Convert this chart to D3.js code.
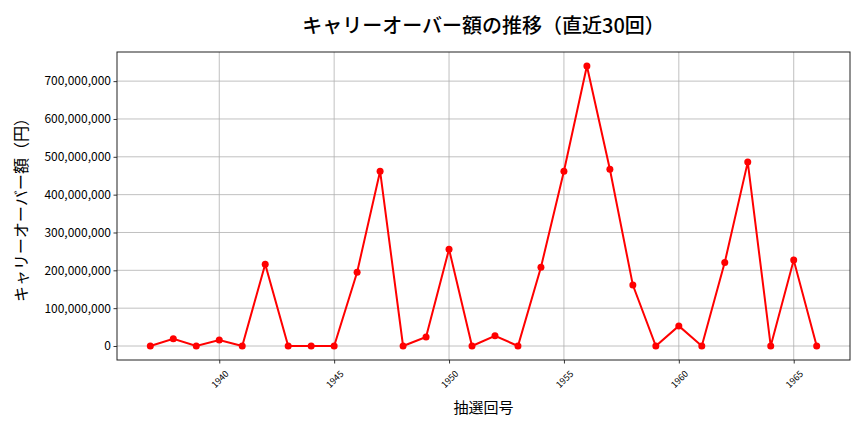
<!DOCTYPE html>
<html><head><meta charset="utf-8">
<script src="https://cdn.jsdelivr.net/npm/d3@7"></script>
<style>body{margin:0;background:#fff}svg{display:block}text{font-family:"Noto Sans CJK JP","Noto Sans",sans-serif}</style>
</head><body>
<svg id="c" width="864" height="432"></svg>
<script>
const draws = [1937,1938,1939,1940,1941,1942,1943,1944,1945,1946,1947,1948,1949,1950,1951,1952,1953,1954,1955,1956,1957,1958,1959,1960,1961,1962,1963,1964,1965,1966];
const carryover = [0,19000000,0,16000000,0,216000000,0,0,0,195000000,462000000,0,24000000,256000000,0,27000000,0,208000000,462000000,740000000,467000000,161000000,0,53000000,0,221000000,486000000,0,227000000,0];
const xTicks = [1940,1945,1950,1955,1960,1965];
const yTicks = [0,100000000,200000000,300000000,400000000,500000000,600000000,700000000];
const title = "キャリーオーバー額の推移（直近30回）";
const xLabel = "抽選回号";
const yLabel = "キャリーオーバー額（円）";

const svg = d3.select("#c");
const L=117, R=850, T=52, B=360;
const xmin=d3.min(draws), xmax=d3.max(draws), xpad=(xmax-xmin)*0.05;
const ymax=d3.max(carryover), ypad=ymax*0.05;
const x=d3.scaleLinear().domain([xmin-xpad,xmax+xpad]).range([L,R]);
const y=d3.scaleLinear().domain([-ypad,ymax+ypad]).range([B,T]);

// grid
const g=svg.append("g");
g.selectAll(".gx").data(xTicks).enter().append("line")
 .attr("x1",d=>x(d)).attr("x2",d=>x(d)).attr("y1",T).attr("y2",B)
 .attr("stroke","#b0b0b0").attr("stroke-width",0.8);
g.selectAll(".gy").data(yTicks).enter().append("line")
 .attr("y1",d=>y(d)).attr("y2",d=>y(d)).attr("x1",L).attr("x2",R)
 .attr("stroke","#b0b0b0").attr("stroke-width",0.8);

// axes
const xa=svg.append("g").attr("transform",`translate(0,${B})`)
 .call(d3.axisBottom(x).tickValues(xTicks).tickFormat(d3.format("d")).tickSize(3.5).tickSizeOuter(0));
xa.select(".domain").remove();
xa.selectAll("text").attr("font-size",9).attr("fill","#000")
 .attr("text-anchor","middle").attr("dy",null).attr("y",0)
 .attr("dominant-baseline","central")
 .attr("transform","translate(0,19) rotate(-45)");
const ya=svg.append("g").attr("transform",`translate(${L},0)`)
 .call(d3.axisLeft(y).tickValues(yTicks).tickFormat(d3.format(",")).tickSize(3.5).tickSizeOuter(0));
ya.select(".domain").remove();
ya.selectAll("text").attr("font-size",12).attr("fill","#000").attr("x",-6);
svg.selectAll(".tick line").attr("stroke","#000").attr("stroke-width",0.8);

// frame
svg.append("rect").attr("x",L).attr("y",T).attr("width",R-L).attr("height",B-T)
 .attr("fill","none").attr("stroke","#222").attr("stroke-width",1);

// line
const pts=draws.map((d,i)=>[d,carryover[i]]);
svg.append("path").datum(pts)
 .attr("d",d3.line().x(d=>x(d[0])).y(d=>y(d[1])))
 .attr("fill","none").attr("stroke","#ff0000").attr("stroke-width",2);
svg.selectAll(".pt").data(pts).enter().append("circle")
 .attr("cx",d=>x(d[0])).attr("cy",d=>y(d[1])).attr("r",3.5).attr("fill","#ff0000");

// labels
svg.append("text").attr("x",(L+R)/2).attr("y",33).attr("text-anchor","middle")
 .attr("font-size",20).attr("font-weight",500).text(title);
svg.append("text").attr("x",(L+R)/2).attr("y",413).attr("text-anchor","middle")
 .attr("font-size",15).text(xLabel);
svg.append("text").attr("transform",`translate(27,${(T+B)/2}) rotate(-90)`)
 .attr("text-anchor","middle").attr("font-size",16).text(yLabel);
</script>
</body></html>
